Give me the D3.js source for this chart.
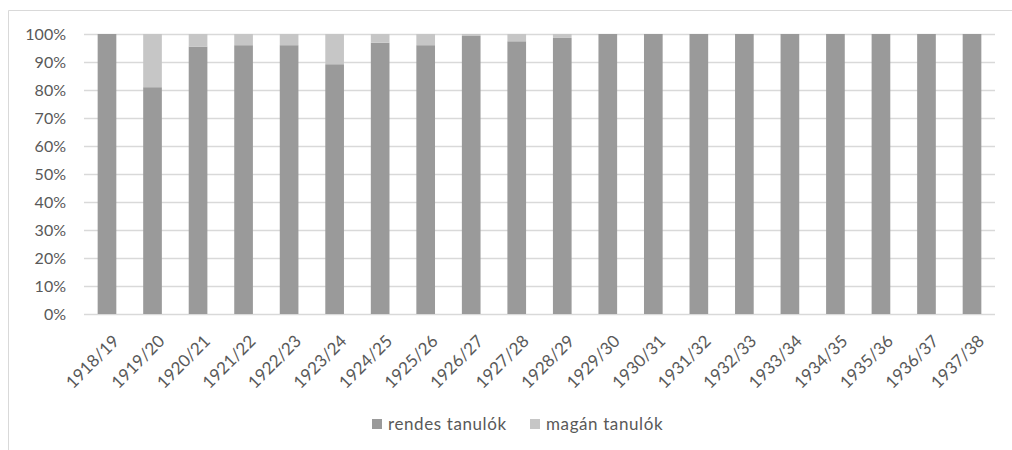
<!DOCTYPE html>
<html>
<head>
<meta charset="utf-8">
<script src="https://cdn.jsdelivr.net/npm/d3@7"></script>
<style>
  body { margin: 0; background: #fff; }
  text { font-family: Lato, "Open Sans", sans-serif; fill: #595959; }
</style>
</head>
<body>
<div id="chart"></div>
<script>
const years = ["1918/19","1919/20","1920/21","1921/22","1922/23","1923/24","1924/25","1925/26","1926/27","1927/28",
  "1928/29","1929/30","1930/31","1931/32","1932/33","1933/34","1934/35","1935/36","1936/37","1937/38"];
const rendes = [100, 81, 95.5, 96, 96, 89.2, 96.9, 96, 99.3, 97.4, 98.6, 100, 100, 100, 100, 100, 100, 100, 100, 100];
const magan = rendes.map(v => 100 - v);
const seriesNames = ["rendes tanulók", "magán tanulók"];
const colors = ["#9a9a9a", "#c6c6c6"];
const yTicks = [0, 10, 20, 30, 40, 50, 60, 70, 80, 90, 100];

const width = 1012, height = 450;
const margin = { left: 84, right: 17, top: 34, bottom: 136 };

const svg = d3.select("#chart").append("svg")
  .attr("width", width)
  .attr("height", height);

// chart frame (cut off at right and bottom)
svg.append("path")
  .attr("d", `M8.5,${height + 2}V10.5H${width + 2}`)
  .attr("fill", "none")
  .attr("stroke", "#d9d9d9");

const x = d3.scaleBand()
  .domain(years)
  .range([margin.left, width - margin.right])
  .paddingInner(0.59)
  .paddingOuter(0.3);

const y = d3.scaleLinear()
  .domain([0, 100])
  .range([height - margin.bottom, margin.top]);

// gridlines
svg.append("g")
  .selectAll("line")
  .data(yTicks)
  .join("line")
  .attr("x1", margin.left)
  .attr("x2", width - margin.right)
  .attr("y1", d => Math.round(y(d)) + 0.5)
  .attr("y2", d => Math.round(y(d)) + 0.5)
  .attr("stroke", "#d9d9d9")
  .attr("stroke-width", 1.3);

// y labels
svg.append("g")
  .selectAll("text")
  .data(yTicks)
  .join("text")
  .attr("x", 66)
  .attr("y", d => y(d))
  .attr("dy", "0.35em")
  .attr("text-anchor", "end")
  .style("font-size", "16px")
  .text(d => d + "%");

// stacked bars
const rows = years.map((yr, i) => ({ year: yr, rendes: rendes[i], magan: magan[i] }));
const stack = d3.stack().keys(["rendes", "magan"])(rows);

svg.append("g")
  .selectAll("g")
  .data(stack)
  .join("g")
  .attr("fill", (d, i) => colors[i])
  .selectAll("rect")
  .data(d => d)
  .join("rect")
  .attr("x", d => x(d.data.year))
  .attr("width", x.bandwidth())
  .attr("y", d => y(d[1]))
  .attr("height", d => y(d[0]) - y(d[1]));

// x labels
svg.append("g")
  .selectAll("text")
  .data(years)
  .join("text")
  .attr("text-anchor", "end")
  .attr("transform", d => `translate(${x(d) + x.bandwidth() / 2 + 9},${height - margin.bottom + 24}) rotate(-45)`)
  .attr("dy", "0.35em")
  .style("font-size", "17px")
  .text(d => d);

// legend
const legendX = [372, 530];
const legend = svg.append("g")
  .selectAll("g")
  .data(seriesNames)
  .join("g")
  .attr("transform", (d, i) => `translate(${legendX[i]},424)`);

legend.append("rect")
  .attr("x", 0)
  .attr("y", -5)
  .attr("width", 10)
  .attr("height", 10)
  .attr("fill", (d, i) => colors[i]);

legend.append("text")
  .attr("x", 16)
  .attr("dy", "0.35em")
  .style("font-size", "17px")
  .style("letter-spacing", "0.6px")
  .text(d => d);
</script>
</body>
</html>
